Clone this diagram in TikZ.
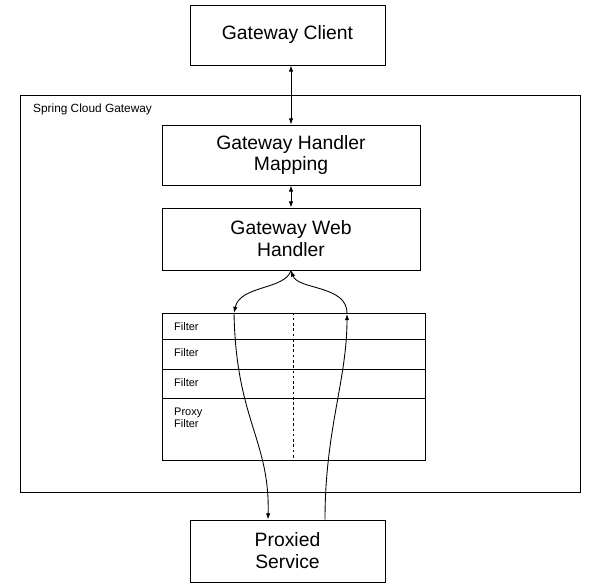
\documentclass[tikz,border=0pt]{standalone}
\usepackage{fontspec}
\setmainfont{Liberation Sans}
\usetikzlibrary{arrows.meta}
\begin{document}
\begin{tikzpicture}[x=0.04cm, y=-0.04cm,
    box/.style={rectangle, draw, line width=1pt, align=center, font=\fontsize{22}{25}\selectfont},
    small/.style={font=\fontsize{12.5}{13.5}\selectfont, align=left, inner sep=0pt, anchor=north west},
    arr/.style={-{Latex[length=7pt,width=5pt]}, line width=1pt},
    darr/.style={{Latex[length=7pt,width=5pt]}-{Latex[length=7pt,width=5pt]}, line width=1pt}]
        \useasboundingbox (0,0) rectangle (615,588);
        \node[box, minimum width=195*0.04cm, minimum height=60*0.04cm] at (287.5,35) (GC) {Gateway Client};
        \node[rectangle, draw, line width=1pt, minimum width=560*0.04cm, minimum height=397*0.04cm] at (300,293.5) (SCG) {};
        \node[small, font=\fontsize{13.5}{14}\selectfont] at (33,104) (SCGL) {Spring Cloud Gateway};
        \node[box, minimum width=258*0.04cm, minimum height=60*0.04cm] at (291,155) (HM) {Gateway Handler\\Mapping};
        \node[box, minimum width=258*0.04cm, minimum height=62*0.04cm] at (291,239) (WH) {Gateway Web\\Handler};
        \node[box, minimum width=195*0.04cm, minimum height=62*0.04cm] at (287.5,551) (PS) {Proxied\\Service};

        % filter chain
        \node[rectangle, draw, line width=1pt, minimum width=263*0.04cm, minimum height=147*0.04cm] at (293.5,386.5) (FC) {};
        \foreach \y in {339,369,398} \draw[line width=1pt] (162,\y) -- (425,\y);
        \draw[dashed, line width=1pt] (FC.north) -- (FC.south);
        \node[small] at (174,322) (F1) {Filter};
        \node[small] at (174,348) (F2) {Filter};
        \node[small] at (174,378) (F3) {Filter};
        \node[small] at (174,408) (F4) {Proxy\\Filter};

        \draw[darr] (GC.south -| HM.north) -- (HM.north);
        \draw[darr] (HM.south) -- (WH.north);

        \coordinate (L) at (234,313);
        \coordinate (R) at (347,314);
        \draw[arr] (WH.south) .. controls (285,290) and (240,285) .. (L);
        \draw[arr] (L) .. controls (236,420) and (270,440) .. (PS.north -| 268,0);
        \draw[arr] (PS.north -| 325,0) .. controls (325,430) and (347,380) .. (R);
        \draw[arr] (R) .. controls (348,285) and (298,290) .. (WH.south);
\end{tikzpicture}
\end{document}
